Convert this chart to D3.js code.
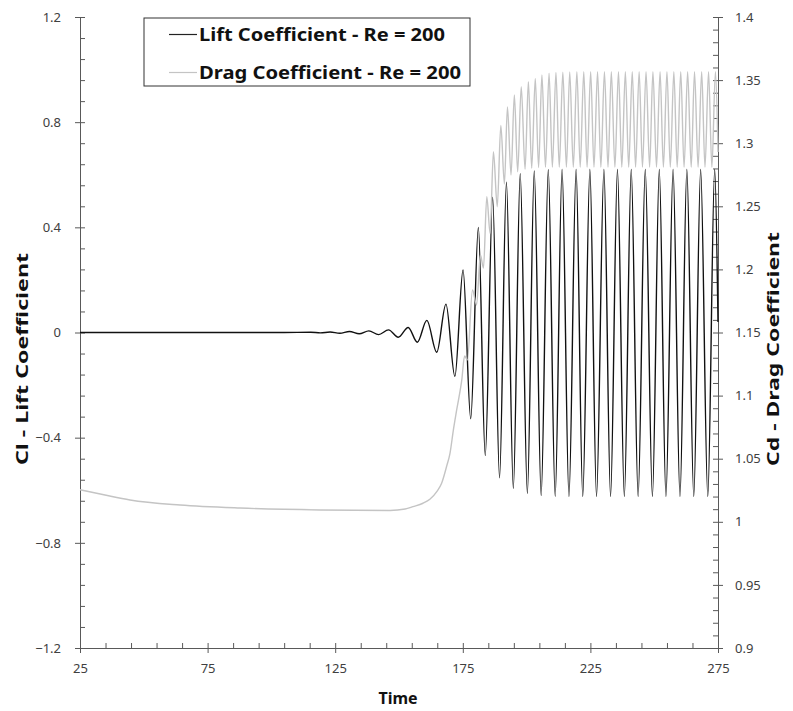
<!DOCTYPE html>
<html>
<head>
<meta charset="utf-8">
<script src="https://cdn.jsdelivr.net/npm/d3@7"></script>
<style>
  body { margin: 0; background: #fff; }
  text { font-family: "Noto Sans", "Open Sans", sans-serif; }
</style>
</head>
<body>
<svg id="chart" width="793" height="711"></svg>
<script>
// turning points of the lift curve
var liftTime = [
  25, 105, 115.4, 119.2, 123.0, 126.8, 130.6, 134.4, 138.2, 142.0,
  145.9, 149.7, 153.6, 157.2, 160.9, 164.8, 168.4, 171.9, 175.1, 178.1,
  181.1, 183.8, 186.7, 189.4, 192.1, 194.8, 197.5, 200.3, 203.0, 205.7,
  208.5, 211.2, 213.9, 216.6, 219.4, 222.0, 224.8, 227.4, 230.3, 232.9,
  235.6, 238.3, 241.0, 243.7, 246.5, 249.3, 252.0, 254.6, 257.4, 260.1,
  262.8, 265.5, 268.2, 271.0, 273.7, 275
];
var liftValue = [
  0, 0, 0.001, -0.0015, 0.002, -0.003, 0.004, -0.005, 0.006, -0.008,
  0.010, -0.018, 0.019, -0.037, 0.046, -0.075, 0.108, -0.167, 0.238, -0.328,
  0.400, -0.468, 0.515, -0.553, 0.572, -0.593, 0.604, -0.612, 0.614, -0.620,
  0.619, -0.623, 0.620, -0.624, 0.620, -0.624, 0.620, -0.624, 0.620, -0.624,
  0.620, -0.624, 0.620, -0.624, 0.620, -0.624, 0.620, -0.624, 0.620, -0.624,
  0.620, -0.624, 0.620, -0.624, 0.620, 0.040
];

// turning points of the drag curve
var dragTime = [
  25, 34.8, 44.6, 64.2, 87.7, 119, 146.5, 152.4, 155.5, 159.4,
  162.1, 164.8, 166.7, 168.7, 170.0, 171.3, 172.6, 174.6, 175.7, 176.8,
  178.8, 180.4, 181.9, 183.1, 184.4, 185.7, 187.0, 188.5, 189.9, 191.3,
  192.5, 193.9, 195.2, 196.5, 197.9, 199.4, 200.7, 202.0, 203.4, 204.7,
  206.0, 207.4, 208.8, 210.1, 211.5, 212.8, 214.2, 215.6, 216.9, 218.3,
  219.7, 221.0, 222.4, 223.7, 225.1, 226.4, 227.8, 229.1, 230.5, 231.9,
  233.2, 234.6, 236.0, 237.3, 238.7, 240.0, 241.4, 242.7, 244.1, 245.4,
  246.8, 248.2, 249.5, 250.9, 252.3, 253.6, 255.0, 256.3, 257.7, 259.0,
  260.4, 261.7, 263.1, 264.5, 265.8, 267.2, 268.6, 269.9, 271.3, 272.6,
  274.0, 275
];
var dragValue = [
  1.0254, 1.0212, 1.0173, 1.0133, 1.0109, 1.0094, 1.0090, 1.0101, 1.0120, 1.0147,
  1.0178, 1.0239, 1.0305, 1.0442, 1.0545, 1.0727, 1.0886, 1.1124, 1.1314, 1.1282,
  1.1837, 1.1718, 1.2114, 1.2011, 1.2576, 1.2286, 1.2933, 1.2497, 1.3140, 1.2677,
  1.3287, 1.2748, 1.3382, 1.2774, 1.3448, 1.2793, 1.3487, 1.2801, 1.3514, 1.2807,
  1.3540, 1.2809, 1.3554, 1.2810, 1.3560, 1.2810, 1.3563, 1.2810, 1.3565, 1.2810,
  1.3567, 1.2810, 1.3567, 1.2810, 1.3567, 1.2810, 1.3567, 1.2810, 1.3567, 1.2810,
  1.3567, 1.2810, 1.3567, 1.2810, 1.3567, 1.2810, 1.3567, 1.2810, 1.3567, 1.2810,
  1.3567, 1.2810, 1.3567, 1.2810, 1.3567, 1.2810, 1.3567, 1.2810, 1.3567, 1.2810,
  1.3567, 1.2810, 1.3567, 1.2810, 1.3567, 1.2810, 1.3567, 1.2810, 1.3567, 1.2810,
  1.3567, 1.2930
];

var timeTicks = [25, 75, 125, 175, 225, 275];
var liftTicks = [-1.2, -0.8, -0.4, 0, 0.4, 0.8, 1.2];
var dragTicks = [0.9, 0.95, 1, 1.05, 1.1, 1.15, 1.2, 1.25, 1.3, 1.35, 1.4];
var seriesNames = ["Lift Coefficient - Re = 200", "Drag Coefficient - Re = 200"];

var svg = d3.select("#chart");
var axisColor = "#595959";

var x = d3.scaleLinear().domain([25, 275]).range([80, 718]);
var yL = d3.scaleLinear().domain([-1.2, 1.2]).range([648, 17]);
var yR = d3.scaleLinear().domain([0.9, 1.4]).range([648, 17]);

// minor tick positions
var xMinor = d3.range(25, 276, 10);
var yLMinor = d3.range(0, 31).map(function (i) { return -1.2 + i * 0.08; });
var yRMinor = d3.range(0, 51).map(function (i) { return 0.9 + i * 0.01; });

function styleAxis(g, showDomain) {
  g.selectAll("line").attr("stroke", axisColor);
  g.select(".domain").attr("stroke", showDomain ? axisColor : "none");
  g.selectAll("text").attr("fill", "#404040").style("font-size", "13px");
}

// inner minor ticks
svg.append("g").attr("transform", "translate(80,0)")
  .call(d3.axisRight(yL).tickValues(yLMinor).tickSize(5).tickFormat(""))
  .call(styleAxis, false);
svg.append("g").attr("transform", "translate(718,0)")
  .call(d3.axisLeft(yR).tickValues(yRMinor).tickSize(5).tickFormat(""))
  .call(styleAxis, false);
svg.append("g").attr("transform", "translate(0,648)")
  .call(d3.axisTop(x).tickValues(xMinor).tickSize(5).tickFormat(""))
  .call(styleAxis, false);

// major ticks with labels
svg.append("g").attr("transform", "translate(80,0)")
  .call(d3.axisLeft(yL).tickValues(liftTicks).tickSize(5).tickSizeOuter(0).tickPadding(14)
    .tickFormat(function (d) { return d3.format("~g")(d); }))
  .call(styleAxis, true);
svg.append("g").attr("transform", "translate(718,0)")
  .call(d3.axisRight(yR).tickValues(dragTicks).tickSize(5).tickSizeOuter(0).tickPadding(12)
    .tickFormat(function (d) { return d3.format("~g")(d); }))
  .call(styleAxis, true);
svg.append("g").attr("transform", "translate(0,648)")
  .call(d3.axisBottom(x).tickValues(timeTicks).tickSize(5).tickSizeOuter(0).tickPadding(11))
  .call(styleAxis, true);

// data lines
var liftLine = d3.line()
  .x(function (d, i) { return x(liftTime[i]); })
  .y(function (d) { return yL(d); })
  .curve(d3.curveMonotoneX);
var dragLine = d3.line()
  .x(function (d, i) { return x(dragTime[i]); })
  .y(function (d) { return yR(d); })
  .curve(d3.curveMonotoneX);

svg.append("path").attr("d", liftLine(liftValue))
  .attr("fill", "none").attr("stroke", "#111").attr("stroke-width", 1.4);
svg.append("path").attr("d", dragLine(dragValue))
  .attr("fill", "none").attr("stroke", "#c4c4c4").attr("stroke-width", 1.4);

// axis titles
svg.append("text")
  .attr("transform", "translate(28,359) rotate(-90)")
  .attr("text-anchor", "middle")
  .attr("textLength", 212).attr("lengthAdjust", "spacingAndGlyphs")
  .style("font-size", "16px").style("font-weight", "bold").attr("fill", "#111")
  .text("Cl - Lift Coefficient");
svg.append("text")
  .attr("transform", "translate(779,349) rotate(-90)")
  .attr("text-anchor", "middle")
  .attr("textLength", 234).attr("lengthAdjust", "spacingAndGlyphs")
  .style("font-size", "16px").style("font-weight", "bold").attr("fill", "#111")
  .text("Cd - Drag Coefficient");
svg.append("text")
  .attr("x", 398).attr("y", 704)
  .attr("text-anchor", "middle")
  .style("font-size", "16px").style("font-weight", "bold").attr("fill", "#111")
  .text("Time");

// legend
var legend = svg.append("g");
legend.append("rect")
  .attr("x", 144).attr("y", 18).attr("width", 326).attr("height", 68)
  .attr("fill", "#fff").attr("stroke", "#333").attr("stroke-width", 1);
var legendColors = ["#222", "#c4c4c4"];
var legendWidths = [246, 262];
seriesNames.forEach(function (name, i) {
  var cy = 34.5 + i * 38;
  legend.append("line")
    .attr("x1", 169).attr("x2", 197).attr("y1", cy).attr("y2", cy)
    .attr("stroke", legendColors[i]).attr("stroke-width", 1.2);
  legend.append("text")
    .attr("x", 199).attr("y", cy + 6)
    .attr("textLength", legendWidths[i]).attr("lengthAdjust", "spacingAndGlyphs")
    .style("font-size", "17px").style("font-weight", "bold").attr("fill", "#111")
    .text(name);
});
</script>
</body>
</html>
